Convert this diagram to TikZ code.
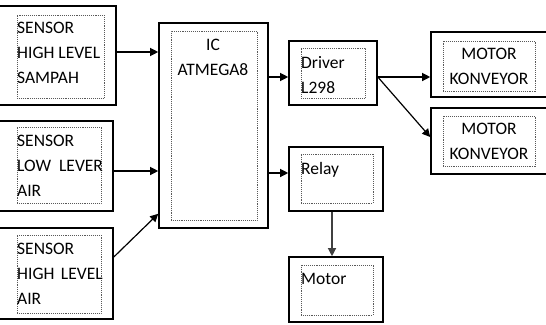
\documentclass[tikz,border=0pt]{standalone}
\usepackage{fontspec}
\setmainfont{Carlito}
\usetikzlibrary{arrows.meta,fit}
\begin{document}
\begin{tikzpicture}[x=1pt,y=-1pt,
  outer/.style={draw=black,line width=1.6pt,inner sep=0pt,fill=white},
  inner/.style={draw=gray!70!black,densely dotted,line width=0.9pt,inner sep=0pt},
  txt/.style={inner sep=0pt,font=\fontsize{17.5}{25}\selectfont,text=black},
  arr/.style={line width=1.2pt,-{Triangle[length=8pt,width=8pt]}}]
\useasboundingbox (0,0) rectangle (546,324);
\clip (0,0) rectangle (546,324);
% outer boxes
\node[outer,fit={(-3,6) (116,105)}] (s1) {};
\node[outer,fit={(-3,121) (113,211)}] (s2) {};
\node[outer,fit={(-3,228) (113,319)}] (s3) {};
\node[outer,fit={(159,23) (268,228)}] (ic) {};
\node[outer,fit={(289,41) (377,105)}] (drv) {};
\node[outer,fit={(431,32) (549,97)}] (mk1) {};
\node[outer,fit={(431,108) (549,174)}] (mk2) {};
\node[outer,fit={(289,147) (383,211)}] (rel) {};
\node[outer,fit={(289,257) (383,322)}] (mot) {};
% inner dotted boxes
\node[inner,fit={(17,15) (104,98)}] (s1i) {};
\node[inner,fit={(17,127) (101,203)}] (s2i) {};
\node[inner,fit={(17,235) (101,313)}] (s3i) {};
\node[inner,fit={(171,31) (257,220)}] (ici) {};
\node[inner,fit={(301,48) (365,98)}] (drvi) {};
\node[inner,fit={(443,41) (535,91)}] (mk1i) {};
\node[inner,fit={(443,116) (535,166)}] (mk2i) {};
\node[inner,fit={(301,154) (373,203)}] (reli) {};
\node[inner,fit={(301,265) (373,315)}] (moti) {};
% texts (base = baseline of last line)
\node[txt,align=left,anchor=base west] (t1) at (17,83) {SENSOR\\HIGH LEVEL\\SAMPAH};
\node[txt,align=left,anchor=base west] (t2) at (17,196) {SENSOR\\LOW\hspace{8pt}LEVER\\AIR};
\node[txt,align=left,anchor=base west] (t3) at (17,304) {SENSOR\\HIGH\hspace{6.5pt}LEVEL\\AIR};
\node[txt,align=center,anchor=base] (t4) at (213,75) {IC\\ATMEGA8};
\node[txt,align=left,anchor=base west] (t5) at (301,93) {Driver\\L298};
\node[txt,align=center,anchor=base] (t6) at (489,84) {MOTOR\\KONVEYOR};
\node[txt,align=center,anchor=base] (t7) at (489,159) {MOTOR\\KONVEYOR};
\node[txt,anchor=base west] (t8) at (301,174) {Relay};
\node[txt,anchor=base west] (t9) at (301,284) {Motor};
% connectors
\coordinate (a1) at ([yshift=3.5pt]s1.east);
\draw[arr] (a1) -- (a1 -| ic.west);
\coordinate (a2) at ([yshift=-5pt]s2.east);
\draw[arr] (a2) -- (a2 -| ic.west);
\draw[arr] ([yshift=16.5pt]s3.east) -- ([yshift=15pt]ic.south west);
\coordinate (a3) at ([yshift=-4pt]drv.west);
\draw[arr] (a3 -| ic.east) -- (a3);
\coordinate (a4) at ([yshift=6pt]rel.west);
\draw[arr] (a4 -| ic.east) -- (a4);
\coordinate (d1) at ([yshift=-4pt]drv.east);
\draw[arr] (d1) -- (d1 -| mk1.west);
\draw[arr] (d1) -- ([yshift=4pt]mk2.west);
\draw[arr,draw=black!75,fill=black] ([xshift=-4pt]rel.south) -- ([xshift=-4pt]mot.north);
\end{tikzpicture}
\end{document}
